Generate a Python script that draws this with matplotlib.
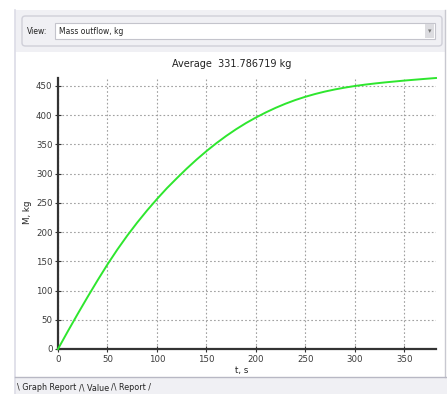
import matplotlib
matplotlib.use("Agg")
import matplotlib.pyplot as plt
from matplotlib.patches import Rectangle, FancyBboxPatch
from matplotlib.lines import Line2D

# Mass outflow over time
t_s = [0, 10, 20, 30, 40, 50, 60, 70, 80, 90, 100, 110, 120, 130, 140, 150, 160,
       170, 180, 190, 200, 210, 220, 230, 240, 250, 260, 270, 280, 290, 300, 310,
       320, 330, 340, 350, 360, 370, 382]
mass_kg = [0, 30.5, 60.3, 89.3, 117.5, 144.7, 170.2, 194, 216.2, 237, 256.5, 275,
           292, 308.5, 324, 338.5, 352, 364.5, 376, 386.5, 396, 404.7, 412.6, 419.7,
           426, 431.5, 436.3, 440.5, 444.1, 447.2, 449.9, 452.2, 454.2, 456, 457.6,
           459.2, 460.6, 462, 463.6]

x_ticks = [0, 50, 100, 150, 200, 250, 300, 350]
y_ticks = [0, 50, 100, 150, 200, 250, 300, 350, 400, 450]
title_text = "Average  331.786719 kg"
x_label = "t, s"
y_label = "M, kg"
view_label = "View:"
view_value = "Mass outflow, kg"
tab_names = ["Graph Report", "Value", "Report"]

W, H = 447, 394
fig = plt.figure(figsize=(W / 100, H / 100), dpi=100)
fig.patch.set_facecolor("white")


def fx(px):
    return px / W


def fy(py):
    return 1 - py / H


def rect(x0, y0, x1, y1, **kw):
    fig.patches.append(Rectangle((fx(x0), fy(y1)), fx(x1) - fx(x0), fy(y0) - fy(y1),
                                 transform=fig.transFigure, figure=fig, **kw))


def hline(x0, x1, y, **kw):
    fig.lines.append(Line2D([fx(x0), fx(x1)], [fy(y), fy(y)], transform=fig.transFigure,
                            figure=fig, **kw))


def vline(x, y0, y1, **kw):
    fig.lines.append(Line2D([fx(x), fx(x)], [fy(y0), fy(y1)], transform=fig.transFigure,
                            figure=fig, **kw))


panel_gray = "#f0f0f4"

# window panel: toolbar strip, plot area and tab strip
rect(15, 10, 445, 52, facecolor=panel_gray, edgecolor="none", zorder=0)
rect(15, 377, 447, 394, facecolor=panel_gray, edgecolor="none", zorder=0)
vline(15, 10, 394, color="#dcdce6", lw=1.2)
vline(445, 10, 377, color="#c8c8d0", lw=1.0)
hline(15, 447, 377, color="#b8b8c4", lw=1.0)

# group box with the view selector
fig.patches.append(FancyBboxPatch((fx(22), fy(46)), fx(442) - fx(22), fy(16) - fy(46),
                                  boxstyle="round,pad=0,rounding_size=0.008",
                                  transform=fig.transFigure, figure=fig,
                                  facecolor=panel_gray, edgecolor="#cfcfd8", lw=1.0))
rect(55, 23, 435, 39, facecolor="white", edgecolor="#c4c4cc", lw=0.8)
rect(425, 24, 434, 38, facecolor="#dcdce0", edgecolor="none")
fig.text(fx(429.5), fy(31), "▾", fontsize=5, color="#777777", ha="center", va="center")
fig.text(fx(27), fy(31), view_label, fontsize=5.5, color="#222222", ha="left", va="center")
fig.text(fx(59), fy(31), view_value, fontsize=5.5, color="#222222", ha="left", va="center")

# tabs along the bottom
tab_y = fy(388)
tab_kw = dict(fontsize=5.8, color="#222222", ha="left", va="center")
fig.text(fx(17), tab_y, "\\ " + tab_names[0], **tab_kw)
fig.text(fx(79), tab_y, "/\\ " + tab_names[1], **tab_kw)
fig.text(fx(111), tab_y, "/\\ " + tab_names[2] + " /", **tab_kw)

# chart
ax = fig.add_axes([fx(58), fy(349), fx(436) - fx(58), fy(78) - fy(349)])
ax.set_facecolor("white")
ax.plot(t_s, mass_kg, color="#2ee62e", lw=1.4, zorder=3, clip_on=False,
        solid_joinstyle="round")

ax.set_xlim(0, t_s[-1])
ax.set_ylim(0, max(mass_kg))
ax.set_xticks(x_ticks)
ax.set_yticks(y_ticks)
ax.tick_params(axis="both", direction="inout", length=4, width=0.8, colors="#333333",
               labelsize=6.2, labelcolor="#3a3a3a", pad=2)
ax.grid(True, color="#a0a0a0", linestyle=(0, (1.5, 2)), lw=0.8)
for side in ("top", "right"):
    ax.spines[side].set_visible(False)
for side in ("left", "bottom"):
    ax.spines[side].set_color("#333333")
    ax.spines[side].set_linewidth(1.6)

fig.text(fx(232), fy(64), title_text, fontsize=7.0, color="#222222", ha="center", va="center")
fig.text(fx(242), fy(371), x_label, fontsize=6.3, color="#222222", ha="center", va="center")
fig.text(fx(27), fy(212), y_label, fontsize=6.3, color="#222222", ha="center", va="center",
         rotation=90)

fig.savefig("out.png", dpi=100)
